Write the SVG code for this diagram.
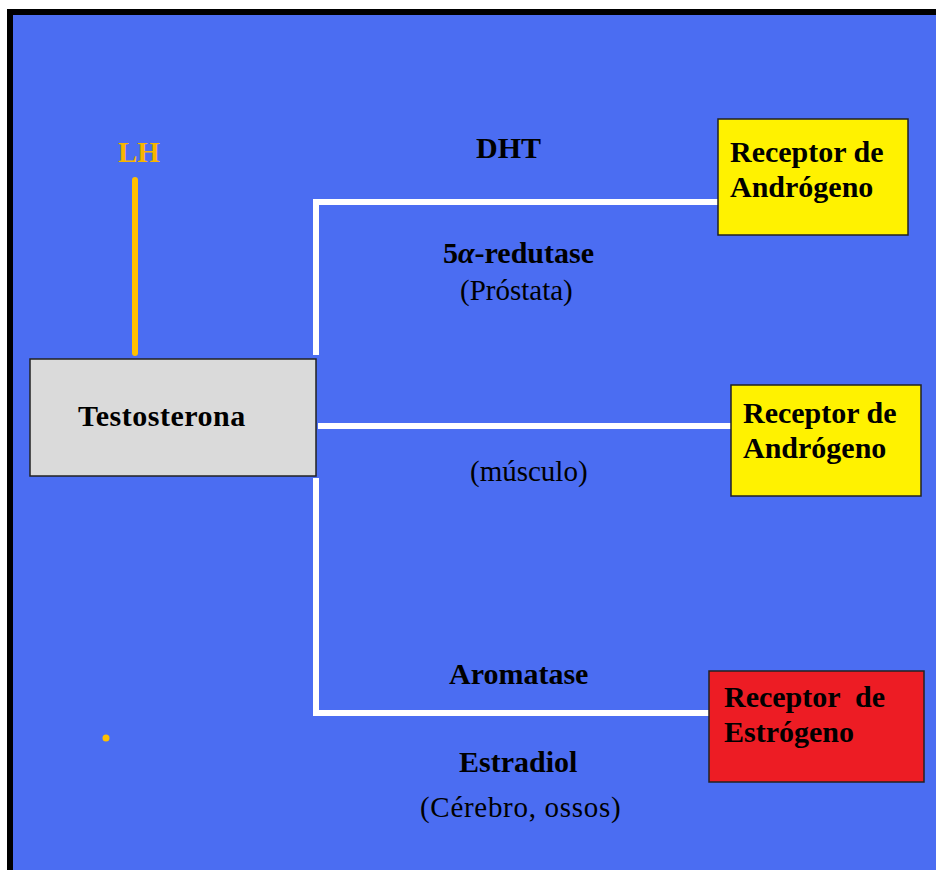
<svg xmlns="http://www.w3.org/2000/svg" width="936" height="870" viewBox="0 0 936 870">
<style>
.b{font-family:"Liberation Serif","Times New Roman",serif;font-weight:bold;font-size:30px;fill:#000}
.n{font-family:"Liberation Serif","Times New Roman",serif;font-size:29px;fill:#000}
.box{stroke:#222;stroke-width:1.5}
.w{stroke:#fff;stroke-width:6;fill:none;stroke-linecap:butt}
</style>
<rect x="0" y="0" width="936" height="870" fill="#fff"/>
<rect x="10" y="12" width="940" height="870" fill="#4B6DF2" stroke="#000" stroke-width="6"/>
<g id="connectors">
<line x1="135" y1="180" x2="135" y2="353" stroke="#FFC000" stroke-width="6" stroke-linecap="round"/>
<polyline class="w" points="316,355 316,202 718,202"/>
<line class="w" x1="318" y1="426" x2="731" y2="426"/>
<polyline class="w" points="316,478 316,713 709,713"/>
</g>
<g id="lh"><text x="118" y="162" class="b" style="fill:#F7B500;font-size:29px">LH</text></g>
<g id="testosterona">
<rect class="box" x="30" y="359" width="286" height="117" fill="#DADADA"/>
<text x="78" y="426" class="b" letter-spacing="0.5">Testosterona</text>
</g>
<g id="receptor1">
<rect class="box" x="718" y="119" width="190" height="116" fill="#FFF200"/>
<text x="730" y="162" class="b">Receptor de</text>
<text x="730" y="197" class="b">Andrógeno</text>
</g>
<g id="receptor2">
<rect class="box" x="731" y="385" width="190" height="111" fill="#FFF200"/>
<text x="743" y="423" class="b">Receptor de</text>
<text x="743" y="458" class="b">Andrógeno</text>
</g>
<g id="receptor3">
<rect class="box" x="709" y="671" width="215" height="111" fill="#ED1C24"/>
<text x="724" y="707" class="b" xml:space="preserve">Receptor  de</text>
<text x="724" y="742" class="b">Estrógeno</text>
</g>
<g id="labels">
<text x="476" y="158" class="b">DHT</text>
<text x="443" y="263" class="b">5<tspan font-style="italic">α</tspan>-redutase</text>
<text x="460" y="300" class="n">(Próstata)</text>
<text x="470" y="481" class="n">(músculo)</text>
<text x="449" y="684" class="b">Aromatase</text>
<text x="459" y="772" class="b">Estradiol</text>
<text x="420" y="817" class="n" letter-spacing="0.7">(Cérebro, ossos)</text>
</g>
<circle cx="106" cy="738" r="3.5" fill="#FFC000"/>
</svg>
